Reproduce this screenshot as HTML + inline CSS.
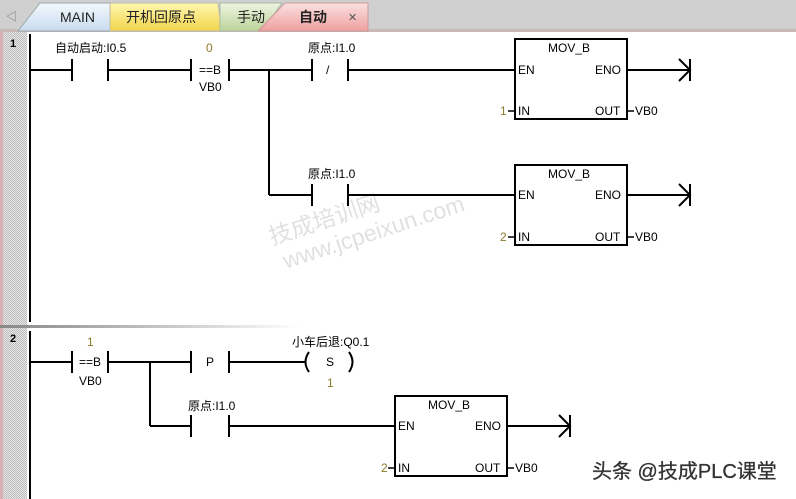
<!DOCTYPE html>
<html><head><meta charset="utf-8"><style>
html,body{margin:0;padding:0;background:#fff;}
svg{display:block;font-family:"Liberation Sans","Noto Sans CJK SC",sans-serif;}
</style></head><body>
<svg width="796" height="499" viewBox="0 0 796 499" xmlns="http://www.w3.org/2000/svg">
<defs>
<pattern id="dots" width="2" height="2" patternUnits="userSpaceOnUse"><rect width="2" height="2" fill="#e6e6e6"/><rect width="1" height="1" fill="#bdbdbd"/><rect x="1" y="1" width="1" height="1" fill="#bdbdbd"/></pattern>
<linearGradient id="sep" x1="0" x2="1"><stop offset="0" stop-color="#888"/><stop offset="0.6" stop-color="#ccc"/><stop offset="1" stop-color="#fff"/></linearGradient>
<linearGradient id="t1" x1="0" y1="0" x2="0" y2="1"><stop offset="0" stop-color="#f4f8fc"/><stop offset="1" stop-color="#c8dcef"/></linearGradient>
<linearGradient id="t2" x1="0" y1="0" x2="0" y2="1"><stop offset="0" stop-color="#fff7b0"/><stop offset="1" stop-color="#f2d54a"/></linearGradient>
<linearGradient id="t3" x1="0" y1="0" x2="0" y2="1"><stop offset="0" stop-color="#eef4e0"/><stop offset="1" stop-color="#bcd49a"/></linearGradient>
<linearGradient id="t4" x1="0" y1="0" x2="0" y2="1"><stop offset="0" stop-color="#fbe0e0"/><stop offset="1" stop-color="#eea0a0"/></linearGradient>
</defs>
<rect x="0" y="0" width="796" height="31" fill="#cfcfcf"/>
<rect x="0" y="29" width="796" height="3" fill="#c9b8b8"/>
<text x="6" y="20" font-size="11" fill="#777">◁</text>
<polygon points="18,31 40,3 112,3 112,31" fill="url(#t1)" stroke="#9aa" stroke-width="1"/>
<polygon points="110,31 110,3 218,3 222,31" fill="url(#t2)" stroke="#bba" stroke-width="1"/>
<polygon points="220,31 220,3 282,3 262,31" fill="url(#t3)" stroke="#aba" stroke-width="1"/>
<polygon points="258,31 285,3 368,3 368,31" fill="url(#t4)" stroke="#c99" stroke-width="1"/>
<text x="60" y="22" font-size="14" fill="#222">MAIN</text>
<text x="126" y="22" font-size="14" fill="#222">开机回原点</text>
<text x="237" y="22" font-size="14" fill="#222">手动</text>
<text x="299" y="22" font-size="14" font-weight="bold" fill="#222">自动</text>
<text x="348" y="21" font-size="11" fill="#555">✕</text>
<rect x="0" y="32" width="27" height="467" fill="url(#dots)"/>
<rect x="0" y="32" width="3" height="467" fill="#d8b0b6"/>
<text x="10" y="47" font-size="11" font-weight="bold">1</text>
<text x="10" y="342" font-size="11" font-weight="bold">2</text>
<rect x="0" y="325" width="300" height="3" fill="url(#sep)"/>
<g stroke="#000" stroke-width="2" fill="none">
<line x1="30" y1="34" x2="30" y2="322"/>
<line x1="30" y1="331" x2="30" y2="499"/>
<line x1="30" y1="70" x2="72" y2="70"/>
<line x1="72" y1="59" x2="72" y2="81"/><line x1="108" y1="59" x2="108" y2="81"/>
<line x1="108" y1="70" x2="191" y2="70"/>
<line x1="191" y1="59" x2="191" y2="81"/><line x1="229" y1="59" x2="229" y2="81"/>
<line x1="229" y1="70" x2="312" y2="70"/>
<line x1="312" y1="59" x2="312" y2="81"/><line x1="348" y1="59" x2="348" y2="81"/>
<line x1="348" y1="70" x2="515" y2="70"/>
<line x1="269" y1="70" x2="269" y2="195"/>
<line x1="269" y1="195" x2="312" y2="195"/>
<line x1="312" y1="184" x2="312" y2="206"/><line x1="348" y1="184" x2="348" y2="206"/>
<line x1="348" y1="195" x2="515" y2="195"/>
<rect x="515" y="39" width="112" height="80"/>
<rect x="515" y="165" width="112" height="80"/>
<line x1="627" y1="70" x2="690" y2="70"/><line x1="690" y1="59" x2="690" y2="81"/>
<path d="M679,59 L690,70 L679,81"/>
<line x1="627" y1="195" x2="690" y2="195"/><line x1="690" y1="184" x2="690" y2="206"/>
<path d="M679,184 L690,195 L679,206"/>
<line x1="30" y1="362" x2="72" y2="362"/>
<line x1="72" y1="351" x2="72" y2="373"/><line x1="108" y1="351" x2="108" y2="373"/>
<line x1="108" y1="362" x2="191" y2="362"/>
<line x1="191" y1="351" x2="191" y2="373"/><line x1="229" y1="351" x2="229" y2="373"/>
<line x1="229" y1="362" x2="305" y2="362"/>
<path d="M309,352 Q302,362 309,372"/><path d="M349,352 Q356,362 349,372"/>
<line x1="150" y1="362" x2="150" y2="426"/>
<line x1="150" y1="426" x2="191" y2="426"/>
<line x1="191" y1="415" x2="191" y2="437"/><line x1="229" y1="415" x2="229" y2="437"/>
<line x1="229" y1="426" x2="395" y2="426"/>
<rect x="395" y="396" width="112" height="80"/>
<line x1="507" y1="426" x2="570" y2="426"/><line x1="570" y1="415" x2="570" y2="437"/>
<path d="M559,415 L570,426 L559,437"/>
</g>
<g stroke="#000" stroke-width="1.5">
<line x1="508" y1="111" x2="515" y2="111"/><line x1="627" y1="111" x2="634" y2="111"/>
<line x1="508" y1="237" x2="515" y2="237"/><line x1="627" y1="237" x2="634" y2="237"/>
<line x1="388" y1="468" x2="395" y2="468"/><line x1="507" y1="468" x2="514" y2="468"/>
</g>
<g font-size="12" fill="#000">
<text x="55" y="52">自动启动:I0.5</text>
<text x="206" y="52" fill="#8a7a2a">0</text>
<text x="199" y="74">==B</text>
<text x="199" y="91">VB0</text>
<text x="308" y="52">原点:I1.0</text>
<text x="326" y="74">/</text>
<text x="308" y="178">原点:I1.0</text>
<text x="548" y="52">MOV_B</text><text x="518" y="74">EN</text><text x="595" y="74">ENO</text>
<text x="518" y="115">IN</text><text x="595" y="115">OUT</text><text x="635" y="115">VB0</text>
<text x="500" y="115" fill="#8a7a2a">1</text>
<text x="548" y="178">MOV_B</text><text x="518" y="199">EN</text><text x="595" y="199">ENO</text>
<text x="518" y="241">IN</text><text x="595" y="241">OUT</text><text x="635" y="241">VB0</text>
<text x="500" y="241" fill="#8a7a2a">2</text>
<text x="87" y="346" fill="#8a7a2a">1</text>
<text x="79" y="366">==B</text>
<text x="79" y="385">VB0</text>
<text x="206" y="366">P</text>
<text x="292" y="346">小车后退:Q0.1</text>
<text x="326" y="366">S</text>
<text x="327" y="387" fill="#8a7a2a">1</text>
<text x="188" y="410">原点:I1.0</text>
<text x="428" y="409">MOV_B</text><text x="398" y="430">EN</text><text x="475" y="430">ENO</text>
<text x="398" y="472">IN</text><text x="475" y="472">OUT</text><text x="515" y="472">VB0</text>
<text x="381" y="472" fill="#8a7a2a">2</text>
</g>
<g fill="#000" fill-opacity="0.12" font-size="23" transform="rotate(-18 272 245)">
<text x="272" y="245">技成培训网</text>
<text x="278" y="272">www.jcpeixun.com</text>
</g>
<text x="592" y="478" font-size="20" fill="#333" stroke="#333" stroke-width="0.3">头条 @技成PLC课堂</text>
</svg>
</body></html>
